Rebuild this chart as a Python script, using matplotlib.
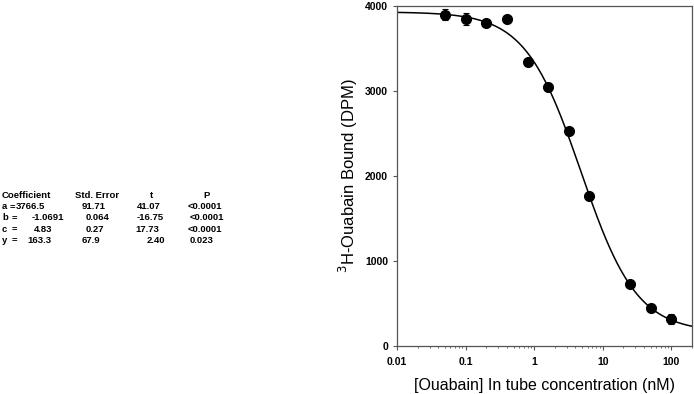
import numpy as np
import matplotlib
matplotlib.use("Agg")
import matplotlib.pyplot as plt

plt.rcParams['font.family'] = ['Liberation Sans', 'DejaVu Sans']

# measured binding points
conc = [0.05, 0.1, 0.2, 0.4, 0.8, 1.6, 3.2, 6.4, 25, 50, 100]
dpm = [3900, 3843, 3804, 3847, 3345, 3051, 2533, 1768, 726, 443, 321]
dpm_err = [60, 70, 20, 0, 0, 0, 0, 0, 0, 0, 60]

# fit coefficients from the table
coef_names = ["a", "b", "c", "y"]
coef = [3766.5, -1.0691, 4.83, 163.3]
coef_txt = ["3766.5", "-1.0691", "4.83", "163.3"]
std_err = ["91.71", "0.064", "0.27", "67.9"]
t_val = ["41.07", "-16.75", "17.73", "2.40"]
p_val = ["<0.0001", "<0.0001", "<0.0001", "0.023"]

fig = plt.figure(figsize=(6.94, 3.94), dpi=100)
W, H = 694.0, 394.0

# coefficient table (left side), positions in pixels
fs = 6.8
def put(x, y, s, ha="left"):
    fig.text(x / W, 1 - y / H, s, fontsize=fs, fontweight="bold", ha=ha, va="center")

row_y = [206.5, 218, 229, 240]
put(2, 195.5, "Coefficient")
put(75, 195.5, "Std. Error")
put(152, 195.5, "t", ha="center")
put(207, 195.5, "P", ha="center")
val_x = [16, 32, 34, 27]
eq_x = [10, 12, 12, 12]
se_x = [82, 86, 86, 82]
t_x = [137, 137, 135, 147]
p_x = [188, 190, 188, 190]
for i in range(4):
    r = row_y[i]
    put(2, r, coef_names[i])
    put(eq_x[i], r, "=")
    put(val_x[i], r, coef_txt[i])
    put(se_x[i], r, std_err[i])
    put(t_x[i], r, t_val[i])
    put(p_x[i], r, p_val[i])

ax = fig.add_axes([397 / W, 48 / H, 295 / W, 340 / H])
xs = np.logspace(-2, np.log10(200), 400)
a, b, c, y0 = coef
ax.plot(xs, y0 + a / (1 + (xs / c) ** (-b)), color="black", lw=1.1)
ax.errorbar(conc, dpm, yerr=dpm_err, fmt="o", color="black", ms=7,
            capsize=2.5, elinewidth=0.8, capthick=0.8, zorder=3)

ax.set_xscale("log")
ax.set_xlim(0.01, 200)
ax.set_ylim(0, 4000)
ax.set_xticks([0.01, 0.1, 1, 10, 100])
ax.set_xticklabels(["0.01", "0.1", "1", "10", "100"])
ax.set_yticks([0, 1000, 2000, 3000, 4000])
for lbl in ax.get_xticklabels() + ax.get_yticklabels():
    lbl.set_fontweight("bold")
ax.tick_params(axis="both", which="major", labelsize=7.5, direction="out",
               length=3, color="#555555")
ax.tick_params(axis="x", which="major", pad=5)
ax.tick_params(axis="x", which="minor", direction="out", length=1.5, color="#555555")
for sp in ax.spines.values():
    sp.set_color("#555555")
    sp.set_linewidth(0.9)

ax.set_xlabel("[Ouabain] In tube concentration (nM)", fontsize=11.5)
ax.xaxis.set_label_coords(0.5, -0.094)
ax.set_ylabel("$^{3}$H-Ouabain Bound (DPM)", fontsize=12)
ax.yaxis.set_label_coords(-0.125, 0.5)

fig.savefig("out.png", dpi=100)
